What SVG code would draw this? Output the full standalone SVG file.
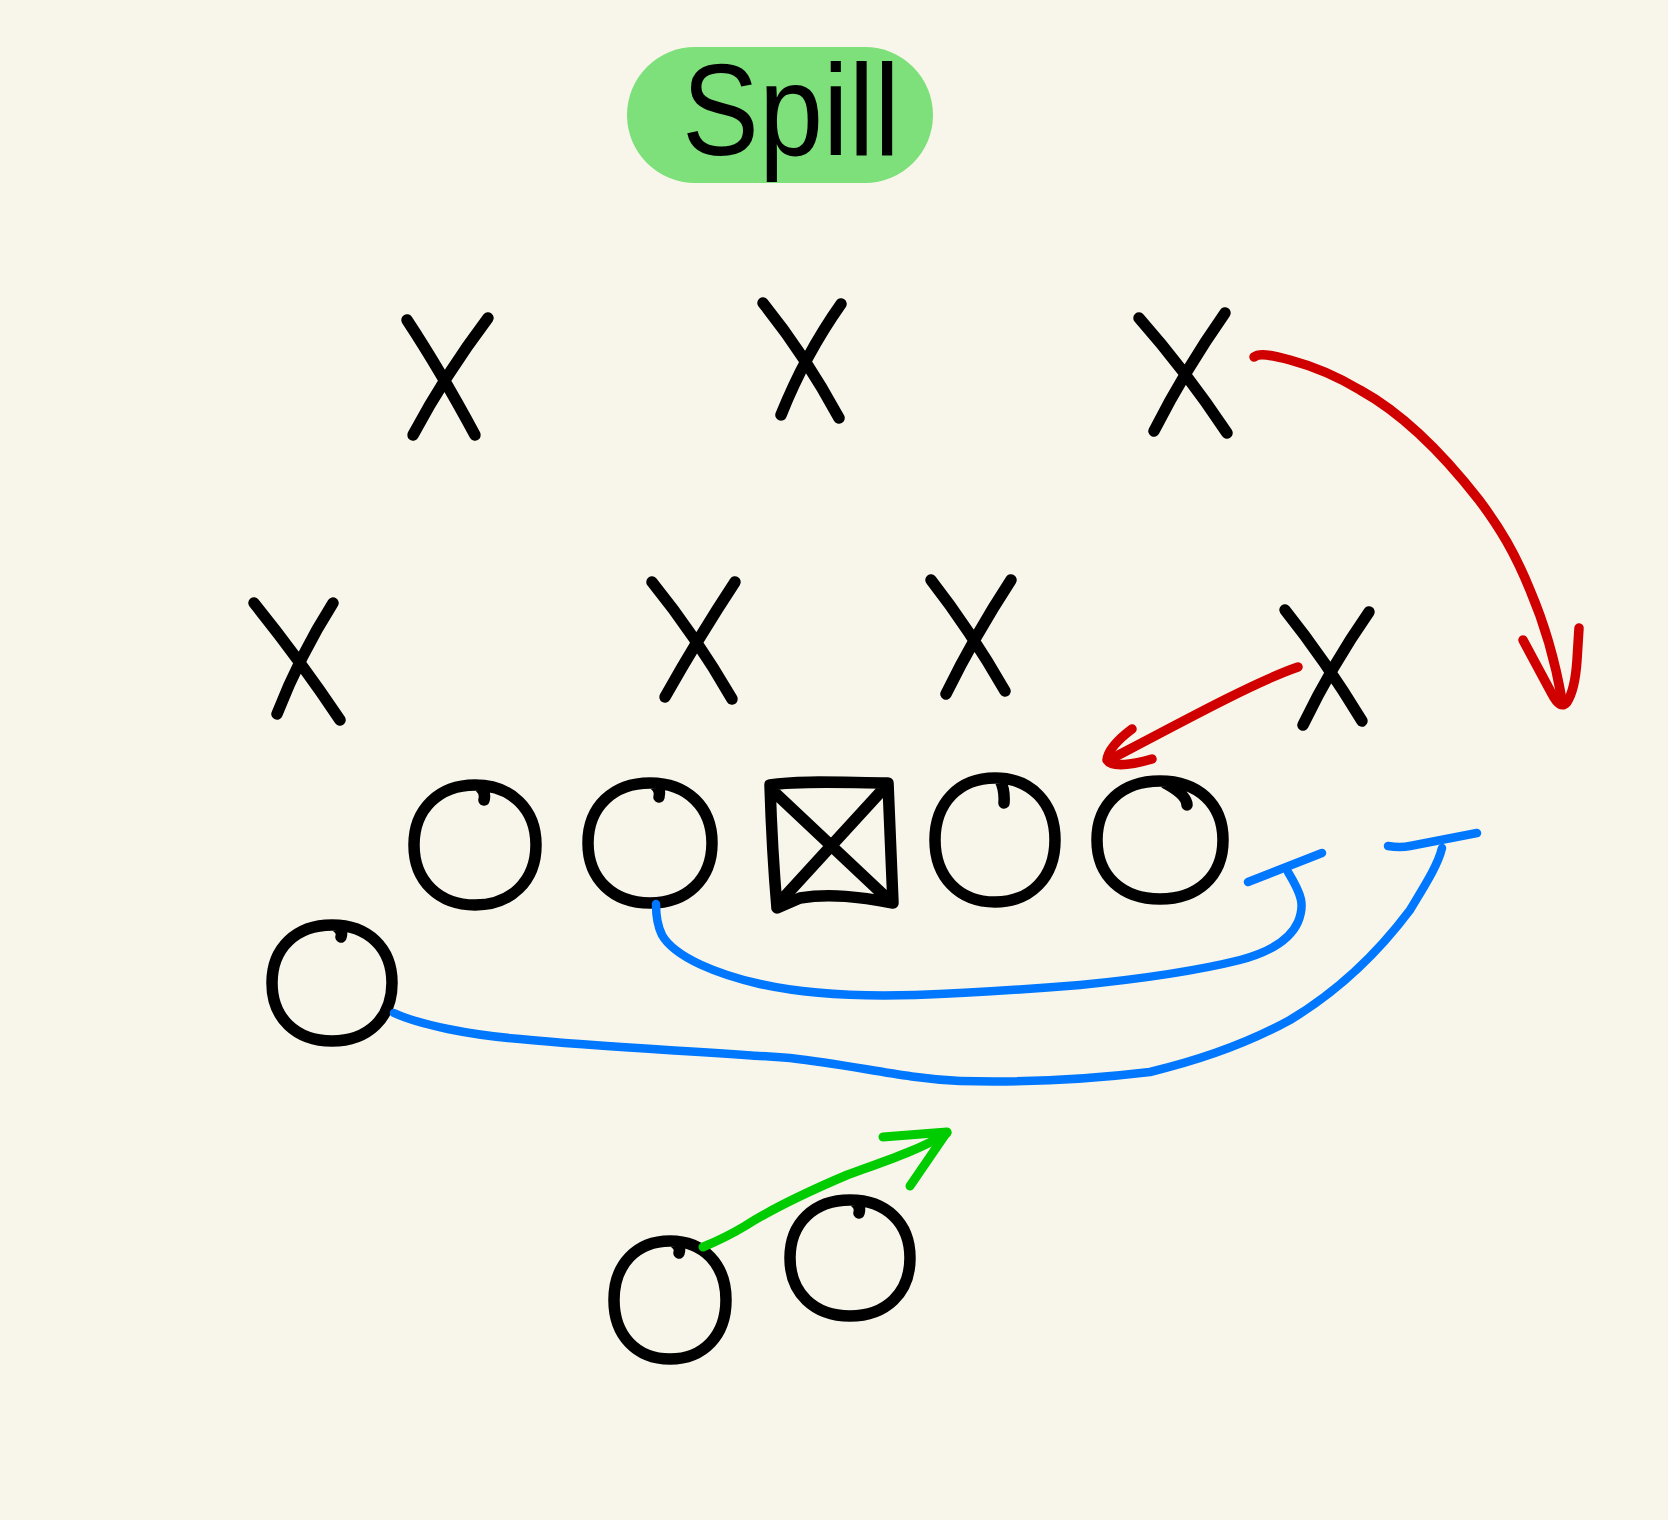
<svg xmlns="http://www.w3.org/2000/svg" width="1668" height="1520" viewBox="0 0 1668 1520">
<style>
.ink{fill:none;stroke:#000;stroke-width:11.5;stroke-linecap:round;stroke-linejoin:round}
.blue{fill:none;stroke:#0077FF;stroke-width:8.5;stroke-linecap:round;stroke-linejoin:round}
.red{fill:none;stroke:#D00000;stroke-width:9.5;stroke-linecap:round;stroke-linejoin:round}
.grn{fill:none;stroke:#00CC00;stroke-width:9;stroke-linecap:round;stroke-linejoin:round}
</style>
<rect x="0" y="0" width="1668" height="1520" fill="#F8F6EA"/>
<g id="title">
<rect x="627" y="47" width="306" height="136" rx="68" fill="#7DE07A"/>
<text x="682" y="155" font-family="Liberation Sans, Arial, sans-serif" font-size="130" textLength="218" lengthAdjust="spacingAndGlyphs" fill="#000">Spill</text>
</g>
<g id="defense">
<g id="x1"><path class="ink" d="M407,320 Q440,370 475,435 M488,318 Q445,375 413,435"/></g>
<g id="x2"><path class="ink" d="M763,303 Q805,355 839,418 M841,304 Q805,355 781,415"/></g>
<g id="x3"><path class="ink" d="M1139,318 Q1185,370 1227,433 M1225,313 Q1185,370 1154,431"/></g>
<g id="x4"><path class="ink" d="M254,603 Q300,660 340,720 M333,603 Q300,655 277,714"/></g>
<g id="x5"><path class="ink" d="M652,582 Q695,635 732,699 M735,582 Q700,635 665,697"/></g>
<g id="x6"><path class="ink" d="M931,580 Q970,630 1005,691 M1011,580 Q975,635 946,694"/></g>
<g id="x7"><path class="ink" d="M1285,610 Q1325,660 1362,721 M1369,612 Q1332,665 1303,725"/></g>
</g>
<g id="offense">
<g id="o1"><path class="ink" d="M475,785 C511,785 536,809 536,845 C536,881 511,905 475,905 C439,905 414,881 414,845 C414,809 439,785 475,785 Z M480,787 Q486,792 484,800"/></g>
<g id="o2"><path class="ink" d="M650,783 C687,783 712,807 712,843 C712,879 687,903 650,903 C613,903 588,879 588,843 C588,807 613,783 650,783 Z M655,785 Q661,790 659,797"/></g>
<g id="center"><path class="ink" d="M770,785 C800,780 850,783 888,783 L893,903 C860,897 830,893 800,898 L777,908 Q772,850 770,785 Z M772,790 L891,902 M886,786 L777,905"/></g>
<g id="o3"><path class="ink" d="M995,778 C1031,778 1055,803 1055,840 C1055,877 1031,902 995,902 C959,902 935,877 935,840 C935,803 959,778 995,778 Z M1000,780 Q1005,790 1004,803"/></g>
<g id="o4"><path class="ink" d="M1160,781 C1198,781 1223,804 1223,840 C1223,876 1198,899 1160,899 C1122,899 1097,876 1097,840 C1097,804 1122,781 1160,781 Z M1165,783 Q1187,795 1187,805"/></g>
<g id="o5"><path class="ink" d="M332,925 C368,925 392,948 392,983 C392,1018 368,1041 332,1041 C296,1041 272,1018 272,983 C272,948 296,925 332,925 Z M337,927 Q343,931 341,937"/></g>
<g id="o6"><path class="ink" d="M670,1241 C704,1241 726,1265 726,1300 C726,1335 704,1359 670,1359 C636,1359 614,1335 614,1300 C614,1265 636,1241 670,1241 Z M675,1243 Q681,1247 679,1253"/></g>
<g id="o7"><path class="ink" d="M850,1200 C886,1200 910,1223 910,1258 C910,1293 886,1316 850,1316 C814,1316 790,1293 790,1258 C790,1223 814,1200 850,1200 Z M855,1202 Q861,1206 859,1213"/></g>
</g>
<g id="connectors">
<path class="blue" d="M656,904 C656,915 657,925 662,935 C675,958 720,975 760,984 C800,993 850,997 915,995 C970,993 1030,989 1080,985 C1150,978 1200,970 1240,960 C1270,952 1290,940 1298,922 C1305,905 1302,895 1288,872"/>
<path class="blue" d="M1248,882 L1322,853"/>
<path class="blue" d="M394,1013 C420,1025 470,1035 520,1039 C600,1047 680,1050 790,1058 C860,1066 900,1078 960,1081 C1030,1083 1100,1078 1150,1072 C1200,1060 1250,1042 1290,1020 C1340,990 1380,950 1410,910 C1425,885 1438,865 1442,848"/>
<path class="blue" d="M1388,846 Q1400,848 1410,846 L1477,833"/>
<path class="red" d="M1254,357 C1260,352 1275,356 1290,360 C1320,368 1340,378 1360,390 C1400,412 1440,450 1479,500 C1500,528 1515,553 1530,590 C1545,625 1555,660 1562,700"/>
<path class="red" d="M1523,640 L1552,694 Q1560,710 1567,702 Q1575,690 1577,660 L1579,628"/>
<path class="red" d="M1298,667 C1260,680 1200,712 1113,758"/>
<path class="red" d="M1132,729 C1120,738 1108,750 1107,760 C1112,768 1135,764 1152,759"/>
<path class="grn" d="M703,1247 C720,1240 730,1235 745,1226 C770,1210 800,1195 847,1175 C880,1163 920,1150 947,1133"/>
<path class="grn" d="M883,1137 L947,1132 L910,1186"/>
</g>
</svg>
